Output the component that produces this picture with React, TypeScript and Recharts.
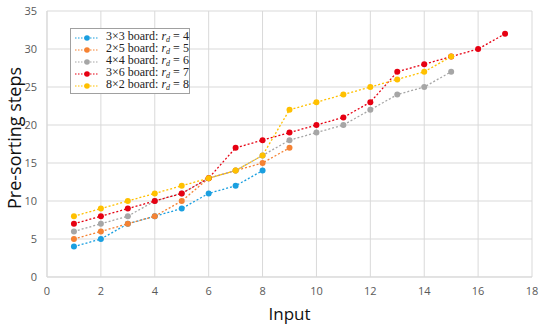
import React from 'react'
import { LineChart, Line, XAxis, YAxis, CartesianGrid } from 'recharts'

const inputs = [1, 2, 3, 4, 5, 6, 7, 8, 9, 10, 11, 12, 13, 14, 15, 16, 17]
const board3x3 = [4, 5, 7, 8, 9, 11, 12, 14]
const board2x5 = [5, 6, 7, 8, 10, 13, 14, 15, 17]
const board4x4 = [6, 7, 8, 10, 11, 13, 14, 16, 18, 19, 20, 22, 24, 25, 27]
const board3x6 = [7, 8, 9, 10, 11, 13, 17, 18, 19, 20, 21, 23, 27, 28, 29, 30, 32]
const board8x2 = [8, 9, 10, 11, 12, 13, 14, 16, 22, 23, 24, 25, 26, 27, 29]
const xTicks = [0, 2, 4, 6, 8, 10, 12, 14, 16, 18]
const yTicks = [0, 5, 10, 15, 20, 25, 30, 35]

const seriesList = [
  { key: 's33', board: '3×3', rd: 4, color: '#1a9fe0', values: board3x3 },
  { key: 's25', board: '2×5', rd: 5, color: '#f58233', values: board2x5 },
  { key: 's44', board: '4×4', rd: 6, color: '#a6a6a6', values: board4x4 },
  { key: 's36', board: '3×6', rd: 7, color: '#e60012', values: board3x6 },
  { key: 's82', board: '8×2', rd: 8, color: '#ffc000', values: board8x2 },
]

const toPoints = (values: number[]) => values.map((v, i) => ({ x: inputs[i], y: v }))

const tickStyle = { fontSize: 11, fill: '#595959', fontFamily: 'Open Sans, sans-serif' }

// legend drawn as an overlay so it doesn't eat into the plot area
function BoardLegend() {
  return (
    <div
      style={{
        position: 'absolute',
        left: 70,
        top: 28,
        width: 120,
        height: 66,
        boxSizing: 'border-box',
        border: '1px solid #a0a0a0',
        background: '#fff',
        padding: '3px 0 0 3px',
        fontFamily: '"Liberation Serif", "DejaVu Serif", serif',
        fontSize: 12,
        color: '#222',
        lineHeight: '12px',
      }}
    >
      {seriesList.map(s => (
        <div key={s.key} style={{ display: 'flex', alignItems: 'center', height: 12 }}>
          <svg width={26} height={10} style={{ marginRight: 6 }}>
            <line x1={1} y1={5} x2={24} y2={5} stroke={s.color} strokeWidth={1.2} strokeDasharray="1.5 1.5" />
            <circle cx={13} cy={5} r={2.8} fill={s.color} />
          </svg>
          <span style={{ whiteSpace: 'nowrap' }}>
            {s.board} board: <i>r</i>
            <sub style={{ fontSize: 8, fontStyle: 'italic', verticalAlign: '-2px' }}>d</sub> = {s.rd}
          </span>
        </div>
      ))}
    </div>
  )
}

export default function App() {
  return (
    <div style={{ position: 'absolute', left: 0, top: 0, width: 550, height: 327, background: '#fff' }}>
      <LineChart width={550} height={327} margin={{ top: 11, right: 18, left: 0, bottom: 20 }}>
        <CartesianGrid stroke="#d9d9d9" strokeWidth={1} />
        <XAxis
          type="number"
          dataKey="x"
          domain={[0, 18]}
          ticks={xTicks}
          tick={tickStyle}
          tickLine={false}
          axisLine={{ stroke: '#d9d9d9' }}
          tickMargin={4}
          height={30}
          label={{ value: 'Input', position: 'insideBottom', offset: -13, style: { fontSize: 17, fill: '#111', fontFamily: 'Open Sans, sans-serif' } }}
        />
        <YAxis
          type="number"
          dataKey="y"
          domain={[0, 35]}
          ticks={yTicks}
          tick={tickStyle}
          tickLine={false}
          axisLine={{ stroke: '#d9d9d9' }}
          width={47}
          tickMargin={4}
          label={{ value: 'Pre-sorting steps', angle: -90, position: 'insideLeft', offset: 15, dy: -6, style: { fontSize: 18, fill: '#111', fontFamily: 'Open Sans, sans-serif', textAnchor: 'middle' } }}
        />
        {seriesList.map(s => (
          <Line
            key={s.key}
            data={toPoints(s.values)}
            dataKey="y"
            name={s.key}
            type="linear"
            stroke={s.color}
            strokeWidth={1.3}
            strokeDasharray="2 2"
            dot={{ r: 3, fill: s.color, stroke: s.color, strokeWidth: 0 }}
            activeDot={false}
            isAnimationActive={false}
          />
        ))}
      </LineChart>
      <BoardLegend />
    </div>
  )
}
